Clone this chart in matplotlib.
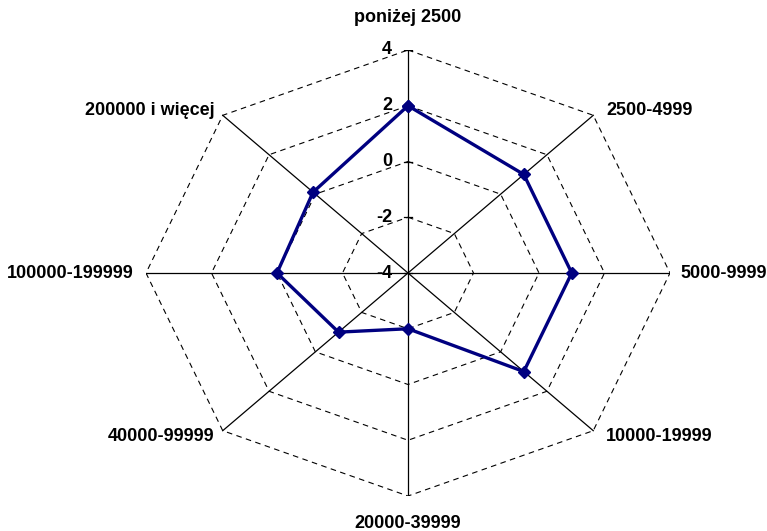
import numpy as np
import matplotlib.pyplot as plt

plt.rcParams['font.family'] = ['Liberation Sans', 'DejaVu Sans']

categories = ['poniżej 2500', '2500-4999', '5000-9999', '10000-19999',
              '20000-39999', '40000-99999', '100000-199999', '200000 i więcej']
values = [2.0, 1.0, 1.0, 1.0, -2.0, -1.0, 0.0, 0.1]
ticks = [-4, -2, 0, 2, 4]
rmin, rmax = -4, 4
navy = '#000080'

W, H = 767, 531
fig = plt.figure(figsize=(W / 100, H / 100), dpi=100)
# centre (408, 273) px, x radius 262 px, y radius 223 px
cx, cy, rx, ry = 408, 273, 262, 223
ax = fig.add_axes([(cx - rx) / W, (H - cy - ry) / H, 2 * rx / W, 2 * ry / H])
ax.set_xlim(-1, 1)
ax.set_ylim(-1, 1)
ax.axis('off')

n = len(categories)
theta = np.arange(n) * 2 * np.pi / n


def to_xy(v, th):
    r = (np.asarray(v, dtype=float) - rmin) / (rmax - rmin)
    return r * np.sin(th), r * np.cos(th)


# dashed grid rings
for t in ticks[1:]:
    gx, gy = to_xy([t] * (n + 1), np.append(theta, theta[0]))
    ax.plot(gx, gy, color='black', lw=0.8, dashes=(5, 4))

# spokes
for th in theta:
    sx, sy = to_xy([rmin, rmax], th)
    ax.plot(sx, sy, color='black', lw=0.9)

# radial tick marks and labels on vertical axis
for t in ticks:
    tx, ty = to_xy(t, 0.0)
    ax.plot([tx - 4 / rx, tx + 4 / rx], [ty, ty], color='black', lw=0.9)
    ax.text(tx - 16 / rx, ty, str(t), ha='right', va='center',
            fontsize=13, fontweight='bold')

# data series
px, py = to_xy(values + values[:1], np.append(theta, theta[0]))
ax.plot(px, py, color=navy, lw=2.4, marker='D', ms=6.5, clip_on=False)

# category labels
offsets = [(0, 32, 'center'), (13, 5, 'left'), (10, 0, 'left'), (13, -6, 'left'),
           (0, -27, 'center'), (-8, -6, 'right'), (-12, 0, 'right'), (-8, 5, 'right')]
for cat, th, (dx, dy, ha) in zip(categories, theta, offsets):
    lx, ly = to_xy(rmax, th)
    ax.text(lx + dx / rx, ly + dy / ry, cat, ha=ha, va='center',
            fontsize=13, fontweight='bold', clip_on=False)

fig.savefig('out.png', dpi=100)
